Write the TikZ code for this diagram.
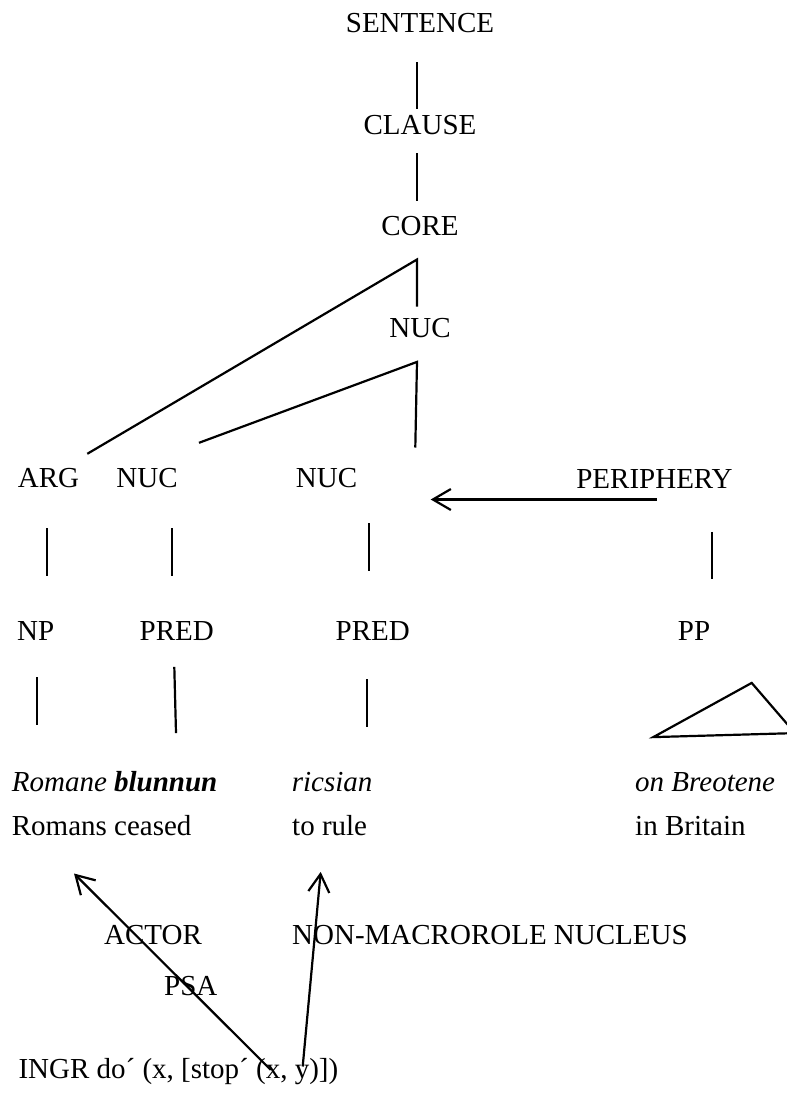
\documentclass[tikz,border=0pt]{standalone}
\usepackage{fontspec}
\setmainfont{Liberation Serif}
\usetikzlibrary{calc,arrows.meta}
\tikzset{
  cat/.style={anchor=base, inner sep=0pt, text height=19pt, text depth=0pt},
  word/.style={anchor=base west, inner sep=0pt, text height=20pt, text depth=6pt},
  branch/.style={line width=2.2pt},
  link/.style={line width=2.2pt, -{Straight Barb[length=18pt,width=21pt]}}
}
\begin{document}
\begin{tikzpicture}[x=1pt, y=-1pt, font=\fontsize{29}{34}\selectfont]
  \useasboundingbox (0,0) rectangle (787,1104);
  \clip (0,0) rectangle (787,1104);

  \begin{scope}[every node/.style={cat}]
    \node (sentence)  at (420,32)    {SENTENCE};
    \node (clause)    at (420,134)   {CLAUSE};
    \node (core)      at (420,235)   {CORE};
    \node (nuc)       at (420,337)   {NUC};
    \node (arg)       at (48.5,487)  {ARG};
    \node (nucA)      at (147,487)   {NUC};
    \node (nucB)      at (326.5,487) {NUC};
    \node (periphery) at (654.5,488) {PERIPHERY};
    \node (np)        at (35.7,640)  {NP};
    \node (predA)     at (176.7,640) {PRED};
    \node (predB)     at (372.7,640) {PRED};
    \node (pp)        at (694,640)   {PP};
  \end{scope}

  \begin{scope}[every node/.style={word}]
    \node (romane)   at (11.7,791.7)  {\itshape Romane \textbf{blunnun}};
    \node (romans)   at (11.7,835)    {Romans ceased};
    \node (ricsian)  at (291.7,791.7) {\itshape ricsian};
    \node (torule)   at (292,835)     {to rule};
    \node (breotene) at (635,791.7)   {\itshape on Breotene};
    \node (britain)  at (635,835)     {in Britain};
    \node (actor)    at (104,944)     {ACTOR};
    \node (psa)      at (164,995)     {PSA};
    \node (nonmacro) at (292,944)     {NON-MACROROLE NUCLEUS};
    \node (ingr)     at (18.3,1078.3) {INGR do´ (x, [stop´ (x, y)])};
  \end{scope}

  \coordinate (coreapex) at ($(core.south)+(-3,24.3)$);
  \coordinate (nucapex)  at ($(nuc.south)+(-3,24.7)$);
  \coordinate (nucfoot)  at ($(nuc.south)+(-4.7,110.3)$);
  \coordinate (nucgap)   at ($(nucB.south)+(104.2,12.3)$);

  \draw[branch] ($(sentence.south)+(-3,30)$) -- ($(clause.north)+(-3,-6)$);
  \draw[branch] ($(clause.south)+(-3,19)$) -- ($(core.north)+(-3,-15)$);
  \draw[branch] ($(arg.north)+(38.8,-14)$) -- (coreapex) -- ($(nuc.north)+(-3,-11.3)$);
  \draw[branch] ($(nucA.north)+(52,-25)$) -- (nucapex) -- (nucfoot);
  \draw[link] ($(periphery.south)+(2.2,11.3)$) -- (nucgap);

  \draw[branch] ($(arg.south)+(-1.5,41)$) -- ($(np.north)+(11.3,-45.3)$);
  \draw[branch] ($(nucA.south)+(25.3,41)$) -- ($(predA.north)+(-4.4,-45)$);
  \draw[branch] ($(nucB.south)+(42.8,36)$) -- ($(predB.north)+(-3.4,-50)$);
  \draw[branch] ($(periphery.south)+(57.8,43.7)$) -- ($(pp.north)+(18.3,-41.7)$);

  \draw[branch] ($(np.south)+(1,37)$) -- ($(romane.north west)+(25,-46.7)$);
  \draw[branch] ($(predA.south)+(-2.4,26.7)$) -- ($(romane.north west)+(164.3,-38.4)$);
  \draw[branch] ($(predB.south)+(-5.4,39)$) -- ($(ricsian.north west)+(75.6,-44.7)$);
  \draw[branch] ($(pp.south)+(57.7,42.7)$) -- ($(breotene.north west)+(18.3,-34.4)$)
    -- ($(breotene.north west)+(160,-38.4)$) -- cycle;

  \draw[link] ($(ingr.north west)+(252.4,11.7)$) -- ($(romans.south west)+(62.3,32.3)$);
  \draw[link] ($(ingr.north west)+(284.4,8.4)$) -- ($(torule.south west)+(28.7,30.7)$);

\end{tikzpicture}
\end{document}
